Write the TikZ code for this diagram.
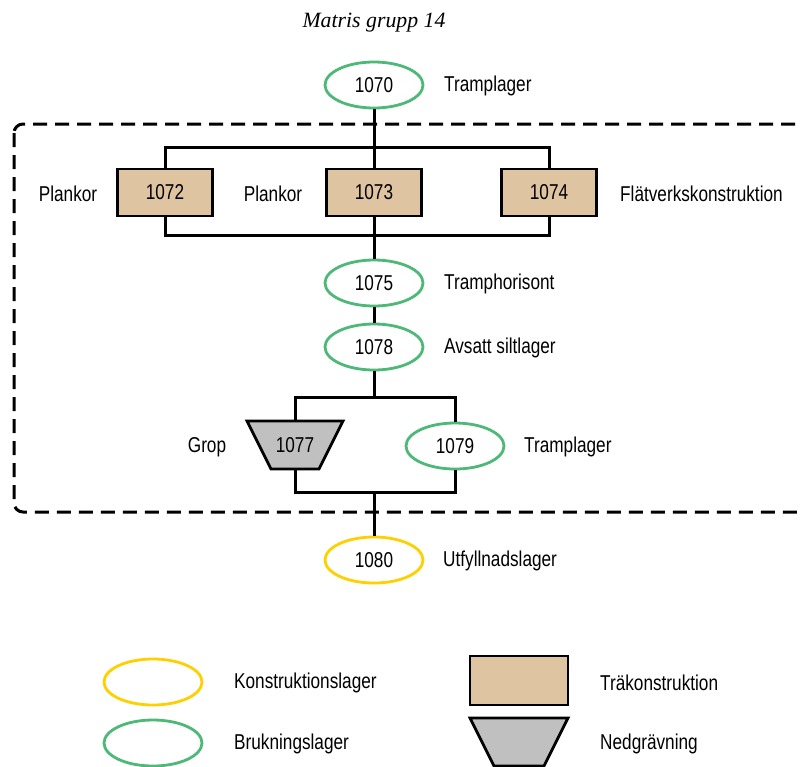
\documentclass[tikz,border=0pt]{standalone}
\usepackage{fontspec}
\setmainfont{Liberation Sans}[FakeStretch=0.8]
\newfontfamily\titlefont{Liberation Serif}
\usetikzlibrary{shapes.geometric}
\definecolor{brgreen}{RGB}{77,184,120}
\definecolor{kyellow}{RGB}{255,208,0}
\definecolor{tan}{RGB}{222,196,160}
\definecolor{pitgray}{RGB}{192,192,192}
\tikzset{
  lay/.style={ellipse,draw,line width=2.8pt,minimum width=98pt,minimum height=46pt,inner sep=0pt,
    font=\fontsize{21.5}{25}\selectfont},
  usel/.style={lay,draw=brgreen},
  konl/.style={lay,draw=kyellow},
  wood/.style={rectangle,draw,fill=tan,line width=2.8pt,minimum width=95pt,minimum height=47pt,inner sep=0pt,
    font=\fontsize{21.5}{25}\selectfont},
  lbl/.style={inner sep=0pt,font=\fontsize{21.5}{25}\selectfont},
  conn/.style={line width=3pt},
  pitshape/.style={draw,fill=pitgray,line width=2.8pt,line join=miter},
}
\begin{document}
\begin{tikzpicture}[x=1pt,y=-1pt]
\useasboundingbox (0,0) rectangle (803,766);
\clip (0,0) rectangle (803,766);
% title
\node[inner sep=0pt,font=\titlefont\itshape\fontsize{21.8}{26}\selectfont] (title) at (374,23) {Matris grupp 14};
% dashed frame
\draw[line width=3pt,dash pattern=on 14pt off 8pt,rounded corners=9pt] (14,124) rectangle (830,512);
% nodes
\node[usel] (n1070) at (374,85) {1070};
\node[lbl,anchor=west] (t1070) at (444,86) {Tramplager};
\node[wood] (n1072) at (165,192.5) {1072};
\node[wood] (n1073) at (374,192.5) {1073};
\node[wood] (n1074) at (549,192.5) {1074};
\node[lbl] (t1072) at (68,193.5) {Plankor};
\node[lbl] (t1073) at (273,193.5) {Plankor};
\node[lbl,anchor=west] (t1074) at (620,193.5) {Flätverkskonstruktion};
\node[usel] (n1075) at (374,283) {1075};
\node[lbl,anchor=west] (t1075) at (444,284) {Tramphorisont};
\node[usel] (n1078) at (374,347) {1078};
\node[lbl,anchor=west] (t1078) at (444,348) {Avsatt siltlager};
% pit 1077
\draw[pitshape] (247,421) -- (343,421) -- (319,469) -- (271,469) -- cycle;
\node[inner sep=0pt,minimum width=96pt,minimum height=48pt,font=\fontsize{21.5}{25}\selectfont] (n1077) at (295,445) {1077};
\node[lbl] (t1077) at (207,447) {Grop};
\node[usel] (n1079) at (455,446) {1079};
\node[lbl,anchor=west] (t1079) at (524,447) {Tramplager};
\node[konl] (n1080) at (374,560) {1080};
\node[lbl,anchor=west] (t1080) at (443,561) {Utfyllnadslager};
% junction coordinates
\coordinate (j1) at (374,147);
\coordinate (j2) at (374,235);
\coordinate (j3) at (374,397);
\coordinate (j4) at (374,492);
% connectors
\draw[conn] (n1070.south) -- (j1);
\draw[conn] (n1072.north) |- (j1) -| (n1074.north);
\draw[conn] (j1) -- (n1073.north);
\draw[conn] (n1072.south) |- (j2) -| (n1074.south);
\draw[conn] (n1073.south) -- (j2);
\draw[conn] (j2) -- (n1075.north);
\draw[conn] (n1075.south) -- (n1078.north);
\draw[conn] (n1078.south) -- (j3);
\draw[conn] (n1077.north) |- (j3) -| (n1079.north);
\draw[conn] (n1077.south) |- (j4) -| (n1079.south);
\draw[conn] (j4) -- (n1080.north);
% legend
\node[konl] (lk) at (153,682) {};
\node[lbl,anchor=west] (lkt) at (234,683) {Konstruktionslager};
\node[usel] (lb) at (153,743) {};
\node[lbl,anchor=west] (lbt) at (234,744) {Brukningslager};
\node[wood,minimum width=98pt,minimum height=49pt] (lw) at (519,680.5) {};
\node[lbl,anchor=west] (lwt) at (600,683) {Träkonstruktion};
\draw[pitshape] (470,718) -- (568,718) -- (544,766) -- (494,766) -- cycle;
\node[lbl,anchor=west] (lnt) at (600,744) {Nedgrävning};
\end{tikzpicture}
\end{document}
